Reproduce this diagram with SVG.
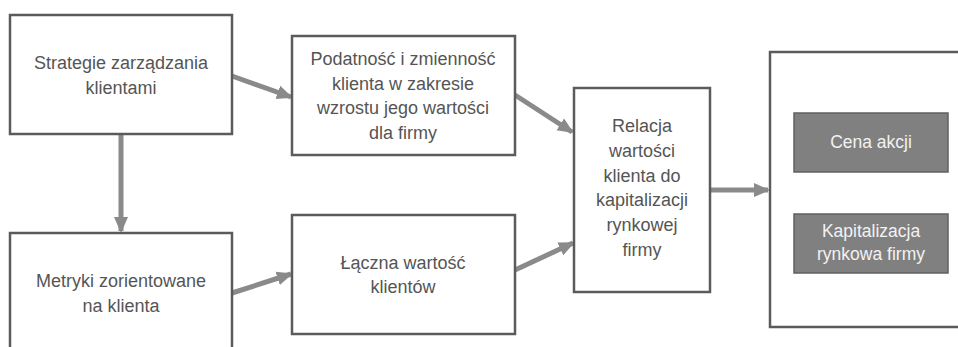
<svg xmlns="http://www.w3.org/2000/svg" width="958" height="347" viewBox="0 0 958 347">
<style>
.box{fill:#fff;stroke:#5b5b5b;stroke-width:2.5}
.inner{fill:#808080;stroke:#606060;stroke-width:1.5}
.t{font-family:"Liberation Sans",Arial,sans-serif;font-size:18px;fill:#555;text-anchor:middle}
.w{font-family:"Liberation Sans",Arial,sans-serif;font-size:17.5px;fill:#f2f2f2;text-anchor:middle}
.c{stroke:#8a8a8a;stroke-width:5;fill:none;marker-end:url(#ah)}
</style>
<defs>
<marker id="ah" markerUnits="userSpaceOnUse" markerWidth="16" markerHeight="16" refX="14" refY="8" orient="auto" viewBox="0 0 16 16">
<path d="M0,1 L16,8 L0,15 z" fill="#8a8a8a"/>
</marker>
</defs>
<g id="connectors">
<line class="c" x1="121" y1="135" x2="121" y2="231"/>
<line class="c" x1="232" y1="76" x2="291" y2="97"/>
<line class="c" x1="232" y1="293" x2="291" y2="274"/>
<line class="c" x1="515" y1="95" x2="572" y2="132"/>
<line class="c" x1="515" y1="270" x2="573" y2="243"/>
<line class="c" x1="710" y1="190" x2="768" y2="190"/>
</g>
<g id="n1">
<rect class="box" x="10" y="15" width="222" height="119"/>
<text class="t" x="121" y="69">Strategie zarządzania</text>
<text class="t" x="121" y="94">klientami</text>
</g>
<g id="n2">
<rect class="box" x="10" y="233" width="222" height="130"/>
<text class="t" x="121" y="287">Metryki zorientowane</text>
<text class="t" x="121" y="312">na klienta</text>
</g>
<g id="n3">
<rect class="box" x="292" y="36" width="223" height="119"/>
<text class="t" x="403" y="65">Podatność i zmienność</text>
<text class="t" x="403" y="89.5">klienta w zakresie</text>
<text class="t" x="403" y="114">wzrostu jego wartości</text>
<text class="t" x="403" y="138.5">dla firmy</text>
</g>
<g id="n4">
<rect class="box" x="292" y="215" width="223" height="119"/>
<text class="t" x="403" y="269">Łączna wartość</text>
<text class="t" x="403" y="293">klientów</text>
</g>
<g id="n5">
<rect class="box" x="574" y="88" width="136" height="204"/>
<text class="t" x="642" y="132">Relacja</text>
<text class="t" x="642" y="157">wartości</text>
<text class="t" x="642" y="182">klienta do</text>
<text class="t" x="642" y="206">kapitalizacji</text>
<text class="t" x="642" y="231">rynkowej</text>
<text class="t" x="642" y="256">firmy</text>
</g>
<g id="n6">
<rect class="box" x="770" y="52" width="200" height="275"/>
</g>
<g id="n7">
<rect class="inner" x="794" y="113" width="154" height="59"/>
<text class="w" x="871" y="148">Cena akcji</text>
</g>
<g id="n8">
<rect class="inner" x="794" y="214" width="154" height="59"/>
<text class="w" x="871" y="237">Kapitalizacja</text>
<text class="w" x="871" y="260">rynkowa firmy</text>
</g>
</svg>
